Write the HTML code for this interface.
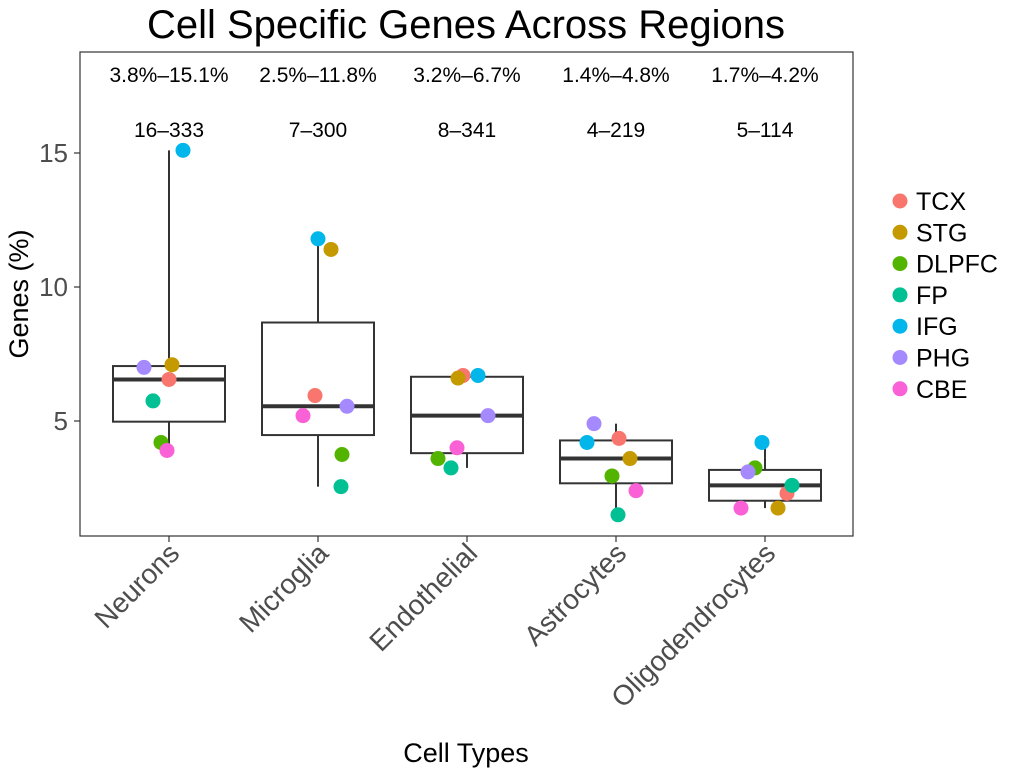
<!DOCTYPE html>
<html><head><meta charset="utf-8"><style>
body{margin:0;background:#fff;}
svg text{font-family:"Liberation Sans",Arial,sans-serif;}
</style></head><body>
<svg id="chart" width="1020" height="773" xmlns="http://www.w3.org/2000/svg">
<text x="466" y="38" font-size="40" text-anchor="middle">Cell Specific Genes Across Regions</text>
<text x="466" y="762" font-size="27" text-anchor="middle">Cell Types</text>
<text transform="translate(28,294) rotate(-90)" font-size="27" text-anchor="middle">Genes (%)</text>
<rect x="80" y="52" width="773" height="484" fill="none" stroke="#333" stroke-width="1.2"/>
<g id="marks"></g>
</svg>
<script>
const categories=["Neurons","Microglia","Endothelial","Astrocytes","Oligodendrocytes"];
const regions=["TCX","STG","DLPFC","FP","IFG","PHG","CBE"];
const colors=["#F8766D","#C49A00","#53B400","#00C094","#00B6EB","#A58AFF","#FB61D7"];
const rangeLabels=["3.8%\u201315.1%","2.5%\u201311.8%","3.2%\u20136.7%","1.4%\u20134.8%","1.7%\u20134.2%"];
const countLabels=["16\u2013333","7\u2013300","8\u2013341","4\u2013219","5\u2013114"];
// values per category, order: TCX, STG, DLPFC, FP, IFG, PHG, CBE
const values=[
 [6.55,7.1,4.2,5.75,15.1,7.0,3.9],
 [5.95,11.4,3.75,2.55,11.8,5.55,5.2],
 [6.7,6.6,3.6,3.25,6.7,5.2,4.0],
 [4.35,3.6,2.95,1.5,4.2,4.9,2.4],
 [2.3,1.75,3.25,2.6,4.2,3.1,1.75]
];
const jitter=[
 [0,3,-8,-16,14,-25,-2],
 [-3,13,24,23,0,29,-15],
 [-4,-9,-29,-16,11,21,-10],
 [3,14,-4,2,-29,-22,20],
 [22,13,-10,27,-3,-17,-24]
];
const yTicks=[5,10,15];
const NS="http://www.w3.org/2000/svg";
const g=document.getElementById('marks');
function y(v){return 555-26.8*v;}
function x(i){return 169+i*149;}
function mk(t,a,p){const e=document.createElementNS(NS,t);for(const k in a)e.setAttribute(k,a[k]);(p||g).appendChild(e);return e;}
function quant(arr,q){const s=[...arr].sort((a,b)=>a-b);const h=(s.length-1)*q;const l=Math.floor(h);return s[l]+(s[Math.ceil(h)]-s[l])*(h-l);}
yTicks.forEach(t=>{
 const l=mk('line',{x1:74,x2:80,y1:y(t),y2:y(t),stroke:'#333','stroke-width':1.2});
 
 
 const tx=mk('text',{x:68,y:y(t)+9,'font-size':26,'text-anchor':'end',fill:'#4d4d4d'});
 tx.textContent=t;
 
 
});
categories.forEach((c,i)=>{
 const vs=values[i];
 const q1=quant(vs,0.25),q3=quant(vs,0.75),md=quant(vs,0.5);
 const lo=Math.min(...vs),hi=Math.max(...vs);
 const cx=x(i);
 const w1=mk('line',{x1:cx,x2:cx,y1:y(hi),y2:y(q3),stroke:'#333','stroke-width':2});
 
 
 const w2=mk('line',{x1:cx,x2:cx,y1:y(q1),y2:y(lo),stroke:'#333','stroke-width':2});
 
 
 const b=mk('rect',{x:cx-56,y:y(q3),width:112,height:y(q1)-y(q3),fill:'#fff',stroke:'#333','stroke-width':2});
 
 
 const m=mk('line',{x1:cx-56,x2:cx+56,y1:y(md),y2:y(md),stroke:'#333','stroke-width':4});
 
 
 vs.forEach((v,j)=>{
  const p=mk('circle',{cx:cx+jitter[i][j],cy:y(v),r:7.5,fill:colors[j]});
  
  
 });
 const r=mk('text',{x:cx,y:82,'font-size':21,'text-anchor':'middle'});
 r.textContent=rangeLabels[i];
 
 
 const n=mk('text',{x:cx,y:137,'font-size':21,'text-anchor':'middle'});
 n.textContent=countLabels[i];
 
 
 const tk=mk('line',{x1:cx,x2:cx,y1:536,y2:542,stroke:'#333','stroke-width':1.2});
 
 
 const xl=mk('text',{transform:`translate(${cx+12},555) rotate(-45)`,'font-size':28,'text-anchor':'end',fill:'#4d4d4d'});
 xl.textContent=c;
 
 
});
regions.forEach((r,j)=>{
 const cy=201+j*31.3;
 const d=mk('circle',{cx:900,cy:cy,r:7.5,fill:colors[j]});
 
 
 const t=mk('text',{x:916,y:cy+9,'font-size':25});
 t.textContent=r;
 
 
});
</script>
</body></html>
